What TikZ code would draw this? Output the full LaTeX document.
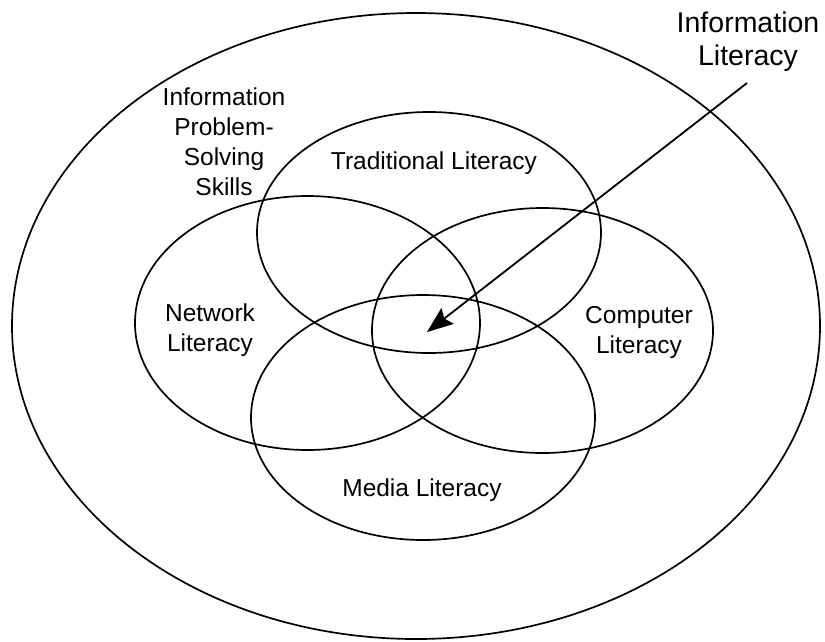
\documentclass[tikz,border=0pt]{standalone}
\usepackage{fontspec}
\setmainfont{Liberation Sans}
\usetikzlibrary{arrows.meta}
\begin{document}
\begin{tikzpicture}[x=1pt,y=-1pt,
  ring/.style={draw, line width=1.7pt},
  lbl/.style={font=\fontsize{24.5}{30}\selectfont, align=center, inner sep=0pt},
  biglbl/.style={font=\fontsize{28.5}{33}\selectfont, align=center, inner sep=0pt},
  pointer/.style={line width=1.8pt, -{Stealth[length=26pt,width=20pt,inset=4pt]}}]
\useasboundingbox (0,0) rectangle (825,641);
\fill[white] (0,0) rectangle (825,641);
% outer ellipse
\draw[ring] (416,326) ellipse [x radius=404, y radius=313];
% four literacies
\draw[ring] (429,232.5) ellipse [x radius=172, y radius=120.5];
\draw[ring] (307.5,323) ellipse [x radius=172.5, y radius=127];
\draw[ring] (542.5,330.5) ellipse [x radius=170.5, y radius=122.5];
\draw[ring] (423,417.5) ellipse [x radius=172, y radius=122.5];
% labels
\node[biglbl] (il) at (748,42) {Information\\Literacy};
\node[lbl] (ips) at (224,142) {Information\\Problem-\\Solving\\Skills};
\node[lbl] (trad) at (434,163) {Traditional Literacy};
\node[lbl] (net) at (210,330) {Network\\Literacy};
\node[lbl] (comp) at (639,332) {Computer\\Literacy};
\node[lbl] (media) at (422,490) {Media Literacy};
% arrow
\coordinate (tail) at (747,83);
\coordinate (tip) at (427,332);
\draw[pointer] (tail) -- (tip);
\end{tikzpicture}
\end{document}
